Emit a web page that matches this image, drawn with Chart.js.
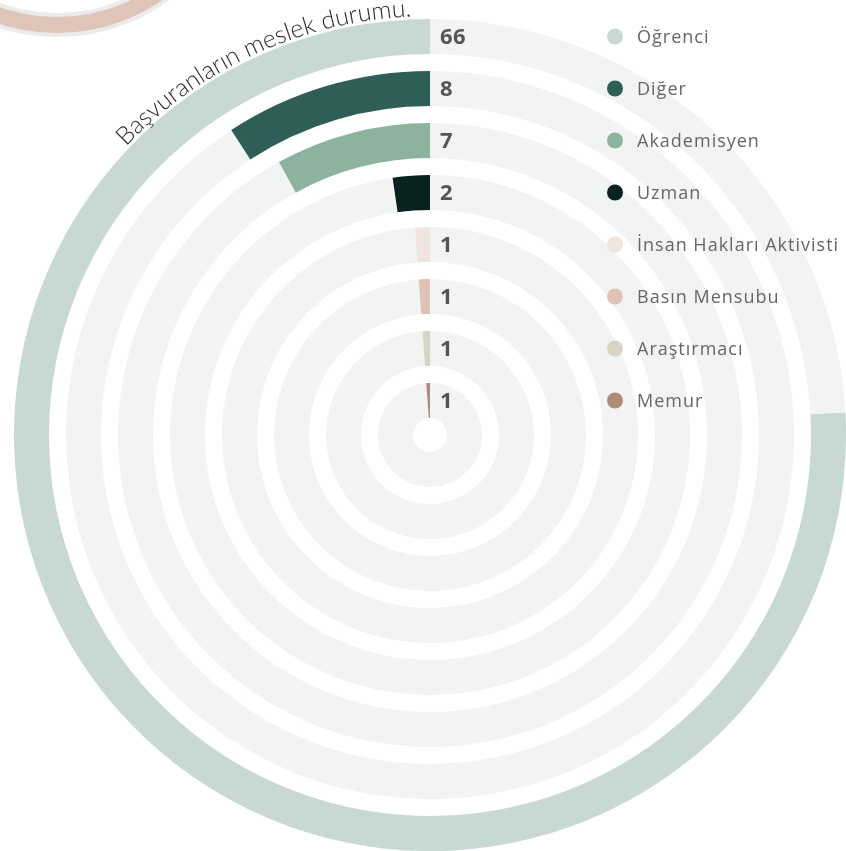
<!DOCTYPE html>
<html>
<head>
<meta charset="utf-8">
<script src="https://cdn.jsdelivr.net/npm/chart.js@4.4.1/dist/chart.umd.min.js"></script>
<style>
html, body { margin: 0; padding: 0; background: #fff; overflow: hidden; }
#wrap { position: relative; width: 846px; height: 851px; overflow: hidden; }
#decoCanvas { position: absolute; left: -132px; top: -341px; }
#radialCanvas { position: absolute; left: 0; top: 0; }
</style>
</head>
<body>
<div id="wrap">
  <canvas id="decoCanvas" width="378" height="378"></canvas>
  <canvas id="radialCanvas" width="846" height="851"></canvas>
</div>
<script>
const categories = ['Öğrenci', 'Diğer', 'Akademisyen', 'Uzman', 'İnsan Hakları Aktivisti', 'Basın Mensubu', 'Araştırmacı', 'Memur'];
const counts = [66, 8, 7, 2, 1, 1, 1, 1];
const colors = ['#c8d9d5', '#2f5d58', '#8bb39d', '#0a221f', '#f0e4e0', '#dfc3b7', '#d8d4c3', '#ad8b78'];
const trackColor = '#f2f4f3';
const title = 'Başvuranların meslek durumu.';

const total = counts.reduce((a, b) => a + b, 0);

// one ring per category, transparent spacer rings in between
const datasets = [];
categories.forEach((name, i) => {
    datasets.push({
        label: name,
        data: [total - counts[i], counts[i]],
        backgroundColor: [trackColor, colors[i]],
        borderWidth: 0,
        weight: 35
    });
    if (i < categories.length - 1) {
        datasets.push({
            label: '',
            data: [1],
            backgroundColor: ['rgba(0,0,0,0)'],
            borderWidth: 0,
            weight: 17
        });
    }
});

const ringLabels = {
    id: 'ringLabels',
    afterDraw(chart) {
        const ctx = chart.ctx;
        ctx.save();
        categories.forEach((name, i) => {
            const arc = chart.getDatasetMeta(i * 2).data[1];
            const y = arc.y - (arc.innerRadius + arc.outerRadius) / 2;

            ctx.textAlign = 'left';
            ctx.textBaseline = 'middle';
            ctx.letterSpacing = '0.5px';
            ctx.font = '700 22px "Open Sans"';
            ctx.fillStyle = '#555555';
            ctx.fillText(String(counts[i]), arc.x + 10, y + 1);

            ctx.beginPath();
            ctx.arc(615, y, 8, 0, Math.PI * 2);
            ctx.fillStyle = colors[i];
            ctx.fill();

            ctx.letterSpacing = '1px';
            ctx.font = '400 18px "Open Sans"';
            ctx.fillStyle = '#666666';
            ctx.fillText(name, 637, y + 1);
        });
        ctx.letterSpacing = '0px';

        // title written along the outer ring
        const outer = chart.getDatasetMeta(0).data[1];
        const cx = outer.x, cy = outer.y;
        const r = outer.outerRadius + 3;
        const endA = -2.5 * Math.PI / 180;
        const startA = -46.5 * Math.PI / 180;
        ctx.font = '300 22px Lato';
        let w = 0;
        for (const ch of title) w += ctx.measureText(ch).width;
        const size = 22 * ((endA - startA) * r) / w;
        ctx.font = '300 ' + size.toFixed(2) + 'px Lato';
        ctx.fillStyle = '#2e2e2e';
        ctx.textAlign = 'center';
        ctx.textBaseline = 'alphabetic';
        let a = startA;
        for (const ch of title) {
            const cw = ctx.measureText(ch).width;
            const m = a + cw / 2 / r;
            ctx.save();
            ctx.translate(cx + r * Math.sin(m), cy - r * Math.cos(m));
            ctx.rotate(m);
            ctx.fillText(ch, 0, 0);
            ctx.restore();
            a += cw / r;
        }
        ctx.restore();
    }
};

new Chart(document.getElementById('radialCanvas'), {
    type: 'doughnut',
    data: {
        labels: ['Kalan', 'Başvuru'],
        datasets: datasets
    },
    options: {
        responsive: false,
        animation: false,
        events: [],
        cutout: 17,
        layout: {
            padding: { left: 14, right: 0, top: 19, bottom: 0 }
        },
        plugins: {
            legend: { display: false },
            tooltip: { enabled: false }
        }
    },
    plugins: [ringLabels]
});

// partly visible ring of the neighbouring chart (top-left corner)
new Chart(document.getElementById('decoCanvas'), {
    type: 'doughnut',
    data: {
        labels: ['Basın Mensubu'],
        datasets: [{
            data: [1],
            backgroundColor: ['#dfc5b8'],
            borderColor: '#ebebeb',
            borderWidth: 4
        }]
    },
    options: {
        responsive: false,
        animation: false,
        events: [],
        cutout: 167,
        plugins: {
            legend: { display: false },
            tooltip: { enabled: false }
        }
    }
});
</script>
</body>
</html>
